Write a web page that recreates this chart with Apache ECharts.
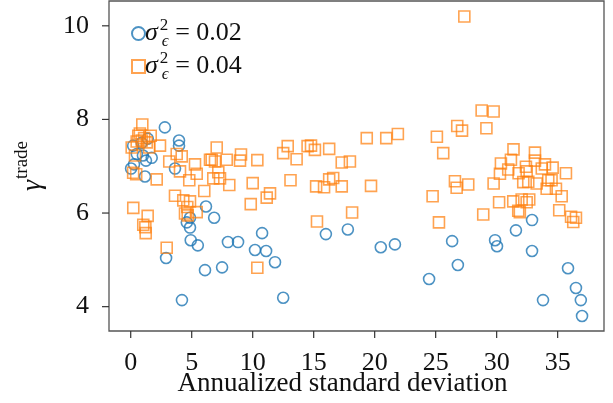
<!DOCTYPE html>
<html>
<head>
<meta charset="utf-8">
<script src="https://cdn.jsdelivr.net/npm/echarts@6/dist/echarts.min.js"></script>
<style>html,body{margin:0;padding:0;background:#fff}#c{width:613px;height:403px}</style>
</head>
<body>
<div id="c"></div>
<script>
// sigma^2 = 0.02 (blue circles)
const lowX = [0.03,0.27,1.17,0.2,0.9,1.4,0.5,1.0,1.72,1.25,2.8,3.96,3.96,3.63,6.17,6.84,4.86,4.6,4.86,4.92,5.5,2.9,6.09,7.49,4.2,7.97,8.8,10.77,10.19,11.1,11.83,12.5,16.0,17.8,20.5,21.66,24.46,26.35,26.82,29.87,30.03,31.58,32.9,32.9,33.8,35.85,36.5,36.9,37.0];
const lowY = [6.95,7.04,6.78,7.44,7.5,7.59,7.26,7.23,7.18,7.12,7.83,7.55,7.44,6.95,6.14,5.9,5.9,5.8,5.69,5.42,5.31,5.04,4.78,4.84,4.14,5.38,5.38,5.57,5.21,5.19,4.95,4.19,5.55,5.65,5.27,5.33,4.59,5.4,4.89,5.42,5.29,5.63,5.85,5.19,4.14,4.82,4.4,4.14,3.8];
// sigma^2 = 0.04 (orange squares)
const highX = [0.95,0.62,1.64,0.49,0.9,1.31,0.08,1.52,0.35,0.75,1.1,0.2,0.45,0.21,1.39,1.03,1.2,1.23,2.13,2.4,2.95,3.16,3.63,3.77,4.04,4.18,4.31,4.45,4.67,4.64,4.8,4.86,5.27,5.41,5.41,6.03,6.5,6.64,6.91,7.05,6.77,7.32,7.18,7.87,8.08,8.96,9.04,9.84,10.0,10.38,10.38,11.15,11.42,12.5,12.87,13.1,13.6,14.5,14.78,15.1,15.27,15.2,15.85,16.27,16.27,16.6,17.3,17.3,17.97,18.15,19.35,19.7,20.95,21.9,24.75,25.27,25.1,25.62,26.58,26.72,27.67,26.77,27.16,27.35,28.77,29.75,29.16,28.9,29.75,30.2,30.27,30.35,30.95,31.17,31.38,31.36,31.8,31.77,31.9,32.05,32.18,32.4,32.46,32.46,32.59,32.67,33.14,33.14,33.28,33.7,33.96,34.1,34.23,34.5,34.59,34.86,35.13,35.33,35.68,36.1,36.28,36.5];
const highY = [7.89,7.65,7.65,7.53,7.55,7.51,7.4,7.4,7.23,7.7,7.6,6.86,6.83,6.11,5.94,5.75,5.7,5.57,6.72,7.44,5.26,7.1,6.37,7.26,6.89,7.21,6.27,5.99,5.95,6.13,6.7,6.25,7.04,6.84,6.02,6.47,7.14,7.14,7.1,7.4,6.74,6.74,6.87,7.14,6.6,7.12,7.25,6.19,6.64,7.13,4.83,6.33,6.42,7.28,7.43,6.7,7.15,7.43,7.44,7.35,5.82,6.57,6.55,6.72,7.37,6.75,7.08,6.57,7.1,6.01,7.6,6.58,7.6,7.69,6.36,5.8,7.63,7.28,6.68,6.54,6.61,7.86,7.76,10.2,8.19,8.17,7.81,5.97,6.63,6.23,6.84,7.06,6.93,7.14,7.36,6.25,6.85,6.05,6.02,6.29,6.66,6.99,6.89,6.23,6.67,6.29,7.29,7.12,6.63,6.95,7.04,6.52,6.7,6.7,6.97,6.52,6.06,6.36,6.85,5.92,5.81,5.9];
const xTicks = [0,5,10,15,20,25,30,35];
const yTicks = [4,6,8,10];
const seriesNames = ['0.02','0.04'];
const X_MIN = -1.78, X_MAX = 38.8, Y_MIN = 3.48, Y_MAX = 10.53;

const zip = (xs, ys) => xs.map((x, i) => [x, ys[i]]);
const FONT = 'Liberation Serif';
const TICK_LEN = 7;
const tickStyle = {stroke: '#333', lineWidth: 1.2};
// outward tick marks drawn through the chart's own coordinate system
const tickSeries = (name, data, horizontal) => ({
  name, type: 'custom', silent: true, clip: false, tooltip: {show: false}, z: 10,
  data,
  renderItem: (params, api) => {
    const p = api.coord([api.value(0), api.value(1)]);
    return {type: 'line', silent: true,
      shape: horizontal ? {x1: p[0] - TICK_LEN, y1: p[1], x2: p[0], y2: p[1]}
                        : {x1: p[0], y1: p[1], x2: p[0], y2: p[1] + TICK_LEN},
      style: tickStyle};
  }
});

const chart = echarts.init(document.getElementById('c'));
chart.setOption({
  animation: false,
  grid: {left: 109, right: 9, top: 1, bottom: 72, show: true, borderColor: '#555', borderWidth: 1.3,
         backgroundColor: 'transparent', containLabel: false, outerBoundsMode: 'none'},
  legend: {
    orient: 'vertical', left: 126, top: 12, itemWidth: 13, itemHeight: 13, itemGap: 0,
    data: seriesNames,
    formatter: n => '{s|σ}{p|2}{b|ϵ}{e| = ' + n + '}',
    textStyle: {
      fontFamily: FONT, color: '#111', padding: [0,0,0,-5],
      rich: {
        s: {fontSize: 26, fontStyle: 'italic', fontFamily: FONT, lineHeight: 33, verticalAlign: 'middle'},
        p: {fontSize: 17, fontFamily: FONT, width: 0, lineHeight: 33, verticalAlign: 'top', padding: [0,0,0,2]},
        b: {fontSize: 17, fontStyle: 'italic', fontFamily: FONT, lineHeight: 22, verticalAlign: 'bottom', padding: [0,0,0,2]},
        e: {fontSize: 26, fontFamily: FONT, lineHeight: 33, verticalAlign: 'middle'}
      }
    }
  },
  xAxis: {
    type: 'value', min: X_MIN, max: X_MAX,
    name: 'Annualized standard deviation', nameLocation: 'middle', nameGap: 39, nameMoveOverlap: false,
    nameTextStyle: {fontFamily: FONT, fontSize: 27, color: '#111', padding: [0, 28, 0, 0]},
    axisLine: {show: false, onZero: false}, splitLine: {show: false},
    axisTick: {show: false},
    axisLabel: {customValues: xTicks, fontFamily: FONT, fontSize: 26, color: '#111', margin: 19}
  },
  yAxis: {
    type: 'value', min: Y_MIN, max: Y_MAX,
    name: '{g|γ}{t|trade}', nameLocation: 'middle', nameGap: 62, nameMoveOverlap: false,
    nameTextStyle: {
      rich: {
        g: {fontFamily: FONT, fontSize: 28, fontStyle: 'italic', color: '#111', lineHeight: 34, verticalAlign: 'bottom'},
        t: {fontFamily: FONT, fontSize: 19, color: '#111', lineHeight: 34, verticalAlign: 'top', padding: [0,0,0,1]}
      }
    },
    axisLine: {show: false, onZero: false}, splitLine: {show: false},
    axisTick: {show: false},
    axisLabel: {customValues: yTicks, fontFamily: FONT, fontSize: 26, color: '#111', margin: 20}
  },
  series: [
    {name: seriesNames[0], type: 'scatter', symbol: 'circle', symbolSize: 11, data: zip(lowX, lowY),
     itemStyle: {color: 'rgba(0,0,0,0)', borderColor: '#1f77b4', borderWidth: 1.6}},
    {name: seriesNames[1], type: 'scatter', symbol: 'rect', symbolSize: 11, data: zip(highX, highY),
     itemStyle: {color: 'rgba(0,0,0,0)', borderColor: 'rgba(255,127,14,0.9)', borderWidth: 1.6}},
    tickSeries('xticks', xTicks.map(v => [v, Y_MIN]), false),
    tickSeries('yticks', yTicks.map(v => [X_MIN, v]), true)
  ]
});
</script>
</body>
</html>
